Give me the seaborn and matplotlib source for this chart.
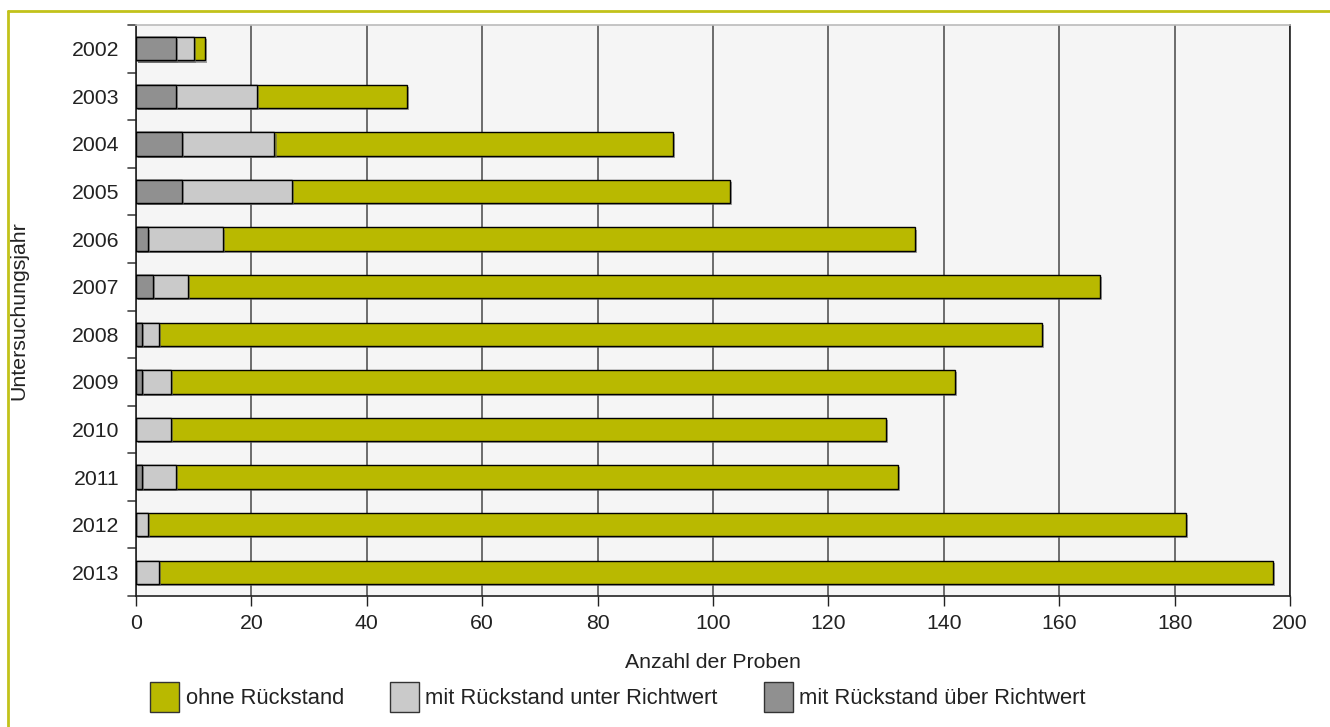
import matplotlib
matplotlib.use("Agg")
import matplotlib.pyplot as plt
import matplotlib.patheffects as pe
from matplotlib.patches import Patch
from matplotlib.lines import Line2D
import seaborn as sns
import pandas as pd
import numpy as np

years = ["2002", "2003", "2004", "2005", "2006", "2007", "2008", "2009", "2010", "2011", "2012", "2013"]
ueber = [7, 7, 8, 8, 2, 3, 1, 1, 0, 1, 0, 0]
unter = [3, 14, 16, 19, 13, 6, 3, 5, 6, 6, 2, 4]
ohne = [2, 26, 69, 76, 120, 158, 153, 136, 124, 125, 180, 193]
labels = ["ohne Rückstand", "mit Rückstand unter Richtwert", "mit Rückstand über Richtwert"]
colors = ["#b9b900", "#cacaca", "#909090"]

sns.set_theme(style="white")
plt.rcParams["font.family"] = ["Liberation Sans", "DejaVu Sans"]

fig = plt.figure(figsize=(13.3, 7.27), dpi=100)
ax = fig.add_axes([136 / 1330, 1 - 596 / 727, (1290 - 136) / 1330, (596 - 25) / 727])
ax.set_facecolor("#f5f5f5")

c1 = np.array(ueber)
c2 = c1 + np.array(unter)
c3 = c2 + np.array(ohne)
df = pd.DataFrame({"year": years, "c1": c1, "c2": c2, "c3": c3})

shadow = [pe.SimplePatchShadow(offset=(1.5, -1.5), shadow_rgbFace="#666666", alpha=0.6), pe.Normal()]
for col, color in [("c3", colors[0]), ("c2", colors[1]), ("c1", colors[2])]:
    sns.barplot(data=df, x=col, y="year", orient="h", color=color, width=0.49,
                edgecolor="black", linewidth=1.0, ax=ax, saturation=1, zorder=3)

for p in ax.patches:
    p.set_path_effects(shadow)

ax.set_xlim(0, 200)
ax.set_ylim(11.5, -0.5)
ax.set_xticks(np.arange(0, 201, 20))
ax.xaxis.grid(True, color="#555555", linewidth=1.2, zorder=0)
ax.set_axisbelow(True)
ax.set_yticks(np.arange(12))
ax.set_yticklabels(years)
ax.tick_params(axis="y", length=0, labelsize=15.3, pad=12, colors="#222222")
ax.tick_params(axis="x", length=7, width=1, labelsize=15.3, colors="#222222", pad=6, direction="out", bottom=True)
for b in np.arange(-0.5, 12.0, 1.0):
    ax.add_line(Line2D([-0.007, 0], [b, b], transform=ax.get_yaxis_transform(), color="#444444",
                       linewidth=1.2, clip_on=False))
for s in ax.spines.values():
    s.set_color("#222222")
    s.set_linewidth(1.2)
ax.spines["top"].set_color("#bbbbbb")

ax.set_xlabel("Anzahl der Proben", fontsize=15.3, color="#222222", labelpad=14)
ax.set_ylabel("Untersuchungsjahr", fontsize=15.3, color="#222222", labelpad=31)

handles = [Patch(facecolor=c, edgecolor="#333333", linewidth=1.0) for c in colors]
fig.legend(handles, labels, loc="center left", bbox_to_anchor=(150 / 1330, 1 - 697 / 727), ncol=3,
           frameon=False, fontsize=15.8, handlelength=1.32, handleheight=1.66, handletextpad=0.3,
           columnspacing=2.1, labelcolor="#222222", borderpad=0, borderaxespad=0)

fig.add_artist(Line2D([8 / 1330, 8 / 1330], [0, 1 - 11 / 727], transform=fig.transFigure, color="#c2c21a", linewidth=2))
fig.add_artist(Line2D([8 / 1330, 1], [1 - 11 / 727, 1 - 11 / 727], transform=fig.transFigure, color="#c2c21a", linewidth=2))

fig.savefig("out.png", dpi=100)
